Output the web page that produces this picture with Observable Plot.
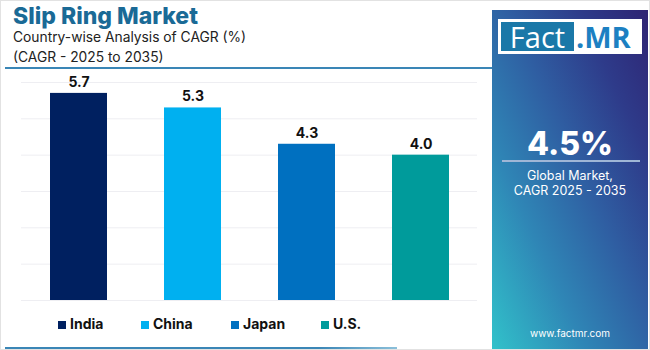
<!DOCTYPE html>
<html>
<head>
<meta charset="utf-8">
<script src="https://cdn.jsdelivr.net/npm/d3@7"></script>
<script src="https://cdn.jsdelivr.net/npm/@observablehq/plot@0.6"></script>
<style>
  html, body { margin: 0; padding: 0; background: #fff; }
  #wrap { position: relative; width: 650px; height: 350px; overflow: hidden; font-family: Inter, "Open Sans", sans-serif; box-sizing: border-box; border: 1px solid #e2e2e2; }
  .abs { position: absolute; }
  #title { left: 12px; top: 1px; font-size: 23px; font-weight: 800; color: #1a6a96; letter-spacing: 0px; }
  .sub { left: 12px; font-size: 13.8px; color: #222; }
  #topline { left: 4px; top: 66px; width: 488px; height: 2px; background: #3a86b6; }
  #botline { left: 4px; top: 346px; width: 392px; height: 2px; background: linear-gradient(to right, #3a86b6, #3a86b6 80%, #8cc0da); }
  #panel { left: 491px; top: 9px; width: 156px; height: 340px; background: linear-gradient(to top right, #31c2ca 0%, #2f86b6 30%, #2f5ea2 55%, #2e3b8a 78%, #2e2473 100%); }
  #logo { left: 6px; top: 9px; width: 144px; height: 35px; background: #fff; }
  #fact { left: 3px; top: 3px; width: 73px; height: 29px; background: #1a78a8; color: #fff; font-size: 29px; line-height: 29px; text-align: center; font-family: "Open Sans", sans-serif; }
  #mr { left: 78px; top: 3px; width: 64px; height: 29px; color: #1c80c2; font-size: 29px; line-height: 29px; font-weight: 700; font-family: "Open Sans", sans-serif; }
  #big { left: 0; width: 156px; top: 114px; text-align: center; color: #fff; font-size: 32px; font-weight: 800; }
  #rule { left: 10px; top: 150px; width: 138px; height: 2px; background: #9fb6d6; }
  .gl { left: 0; width: 156px; text-align: center; color: #fff; font-size: 12.5px; }
  #url { left: 0; width: 156px; top: 317px; text-align: center; color: #fff; font-size: 10px; }
  #chart { left: 0; top: 68px; }
  #legend { left: 0; top: 313px; width: 490px; height: 20px; }
  .li { position: absolute; top: 0; font-size: 14px; font-weight: 700; color: #111; line-height: 20px; }
  .sw { display: inline-block; width: 8px; height: 8px; margin-right: 4px; vertical-align: 0px; }
</style>
</head>
<body>
<div id="wrap">
  <div id="title" class="abs">Slip Ring Market</div>
  <div class="abs sub" style="top:28px">Country-wise Analysis of CAGR (%)</div>
  <div class="abs sub" style="top:48px">(CAGR - 2025 to 2035)</div>
  <div id="topline" class="abs"></div>
  <div id="botline" class="abs"></div>
  <div id="chart" class="abs"></div>
  <div id="legend" class="abs"></div>
  <div id="panel" class="abs">
    <div id="logo" class="abs">
      <div id="fact" class="abs">Fact</div>
      <div id="mr" class="abs">.MR</div>
    </div>
    <div id="big" class="abs">4.5%</div>
    <div id="rule" class="abs"></div>
    <div class="abs gl" style="top:158px">Global Market,</div>
    <div class="abs gl" style="top:173px">CAGR 2025 - 2035</div>
    <div id="url" class="abs">www.factmr.com</div>
  </div>
</div>
<script>
const countries = ["India", "China", "Japan", "U.S."];
const cagr = [5.7, 5.3, 4.3, 4.0];
const colors = ["#002060", "#00b0f0", "#0070c0", "#009b9b"];
const gridTicks = [0, 1, 2, 3, 4, 5, 6];

const data = countries.map((c, i) => ({country: c, value: cagr[i]}));

const chart = Plot.plot({
  width: 490,
  height: 242,
  marginLeft: 20,
  marginRight: 14,
  marginTop: 13,
  marginBottom: 11,
  style: {overflow: "visible", fontFamily: "Inter, 'Open Sans', sans-serif"},
  x: {domain: countries, paddingInner: 0.5, paddingOuter: 0.238, axis: null},
  y: {domain: [0, 6], axis: null},
  color: {domain: countries, range: colors},
  marks: [
    Plot.gridY(gridTicks, {stroke: "#eeeef2", strokeOpacity: 1, strokeWidth: 1}),
    Plot.barY(data, {x: "country", y: "value", fill: "country"}),
    Plot.text(data, {x: "country", y: "value", text: d => d.value.toFixed(1), dy: -11, fontSize: 14, fontWeight: 700, fill: "#111"})
  ]
});
document.getElementById("chart").appendChild(chart);

const legendX = [57, 140, 230, 320];
const legend = document.getElementById("legend");
countries.forEach((c, i) => {
  const item = document.createElement("div");
  item.className = "li";
  item.style.left = legendX[i] + "px";
  item.innerHTML = `<span class="sw" style="background:${colors[i]}"></span>${c}`;
  legend.appendChild(item);
});
</script>
</body>
</html>
